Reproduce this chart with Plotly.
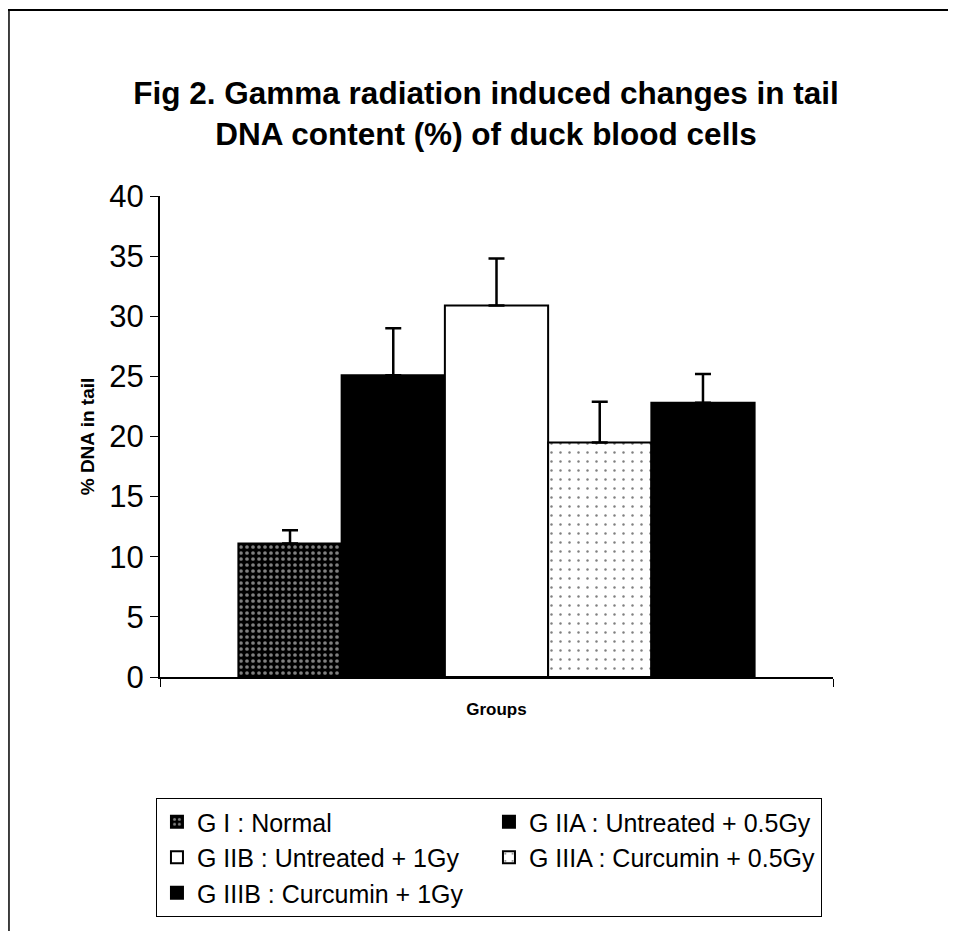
import plotly.graph_objects as go

# ---- data ----
category = ["Groups"]
group_names = [
    "G I : Normal",
    "G IIA : Untreated + 0.5Gy",
    "G IIB : Untreated + 1Gy",
    "G IIIA : Curcumin + 0.5Gy",
    "G IIIB : Curcumin + 1Gy",
]
mean_values = [11.1, 25.1, 30.9, 19.5, 22.8]
error_values = [1.1, 3.9, 3.9, 3.4, 2.4]
y_ticks = [0, 5, 10, 15, 20, 25, 30, 35, 40]

# ---- styles ----
styles = [
    dict(color="black", pattern=dict(shape=".", fgcolor="white", bgcolor="black", size=6, solidity=0.3)),
    dict(color="black"),
    dict(color="white"),
    dict(color="white", pattern=dict(shape=".", fgcolor="black", bgcolor="white", size=9, solidity=0.06)),
    dict(color="black"),
]

fig = go.Figure()
for name, val, err, st in zip(group_names, mean_values, error_values, styles):
    marker = dict(color=st["color"], line=dict(color="black", width=2))
    if "pattern" in st:
        marker["pattern"] = st["pattern"]
    fig.add_trace(go.Bar(
        x=category, y=[val], name=name, marker=marker,
        error_y=dict(type="data", array=[err], arrayminus=[0], symmetric=False,
                     color="black", thickness=2.5, width=8),
    ))

font_main = "Liberation Sans, Arial, sans-serif"
fig.update_layout(
    width=956, height=931,
    paper_bgcolor="white", plot_bgcolor="white",
    barmode="group", bargap=0.233, bargroupgap=0,
    margin=dict(l=152, r=131, t=188, b=262),
    title=dict(
        text="Fig 2. Gamma radiation induced changes in tail<br>DNA content (%) of duck blood cells",
        x=0.5, xref="container", xanchor="center", y=0.897, yanchor="middle",
        font=dict(family=font_main, size=31.5, color="black", weight="bold"),
    ),
    font=dict(family=font_main, color="black"),
    showlegend=True,
    legend=dict(
        orientation="h", x=-0.006, xanchor="left", y=-0.2516, yanchor="top",
        entrywidth=287, traceorder="normal",
        bordercolor="black", borderwidth=1, bgcolor="white",
        font=dict(family=font_main, size=25, color="black"),
    ),
    shapes=[
        dict(type="line", xref="paper", yref="paper", x0=-0.226, x1=1.2, y0=1.3867, y1=1.3867,
             line=dict(color="black", width=2)),
        dict(type="line", xref="paper", yref="paper", x0=-0.2244, x1=-0.2244, y0=1.3867, y1=-0.53,
             line=dict(color="black", width=1.5)),
    ],
)
fig.update_xaxes(
    automargin=False,
    showline=True, linecolor="black", linewidth=2,
    showticklabels=False, ticks="outside", tickson="boundaries", ticklen=8, tickcolor="black",
    title=dict(text="Groups", font=dict(size=17, weight="bold"), standoff=25),
)
fig.update_yaxes(
    automargin=False,
    range=[0, 40], tickvals=y_ticks, showline=True, linecolor="black", linewidth=2,
    ticks="outside", ticklen=8, tickcolor="black", showgrid=False, zeroline=False,
    tickfont=dict(size=31),
    title=dict(text="% DNA in tail", font=dict(size=19, weight="bold"), standoff=10),
)

fig.write_html("out.html")
